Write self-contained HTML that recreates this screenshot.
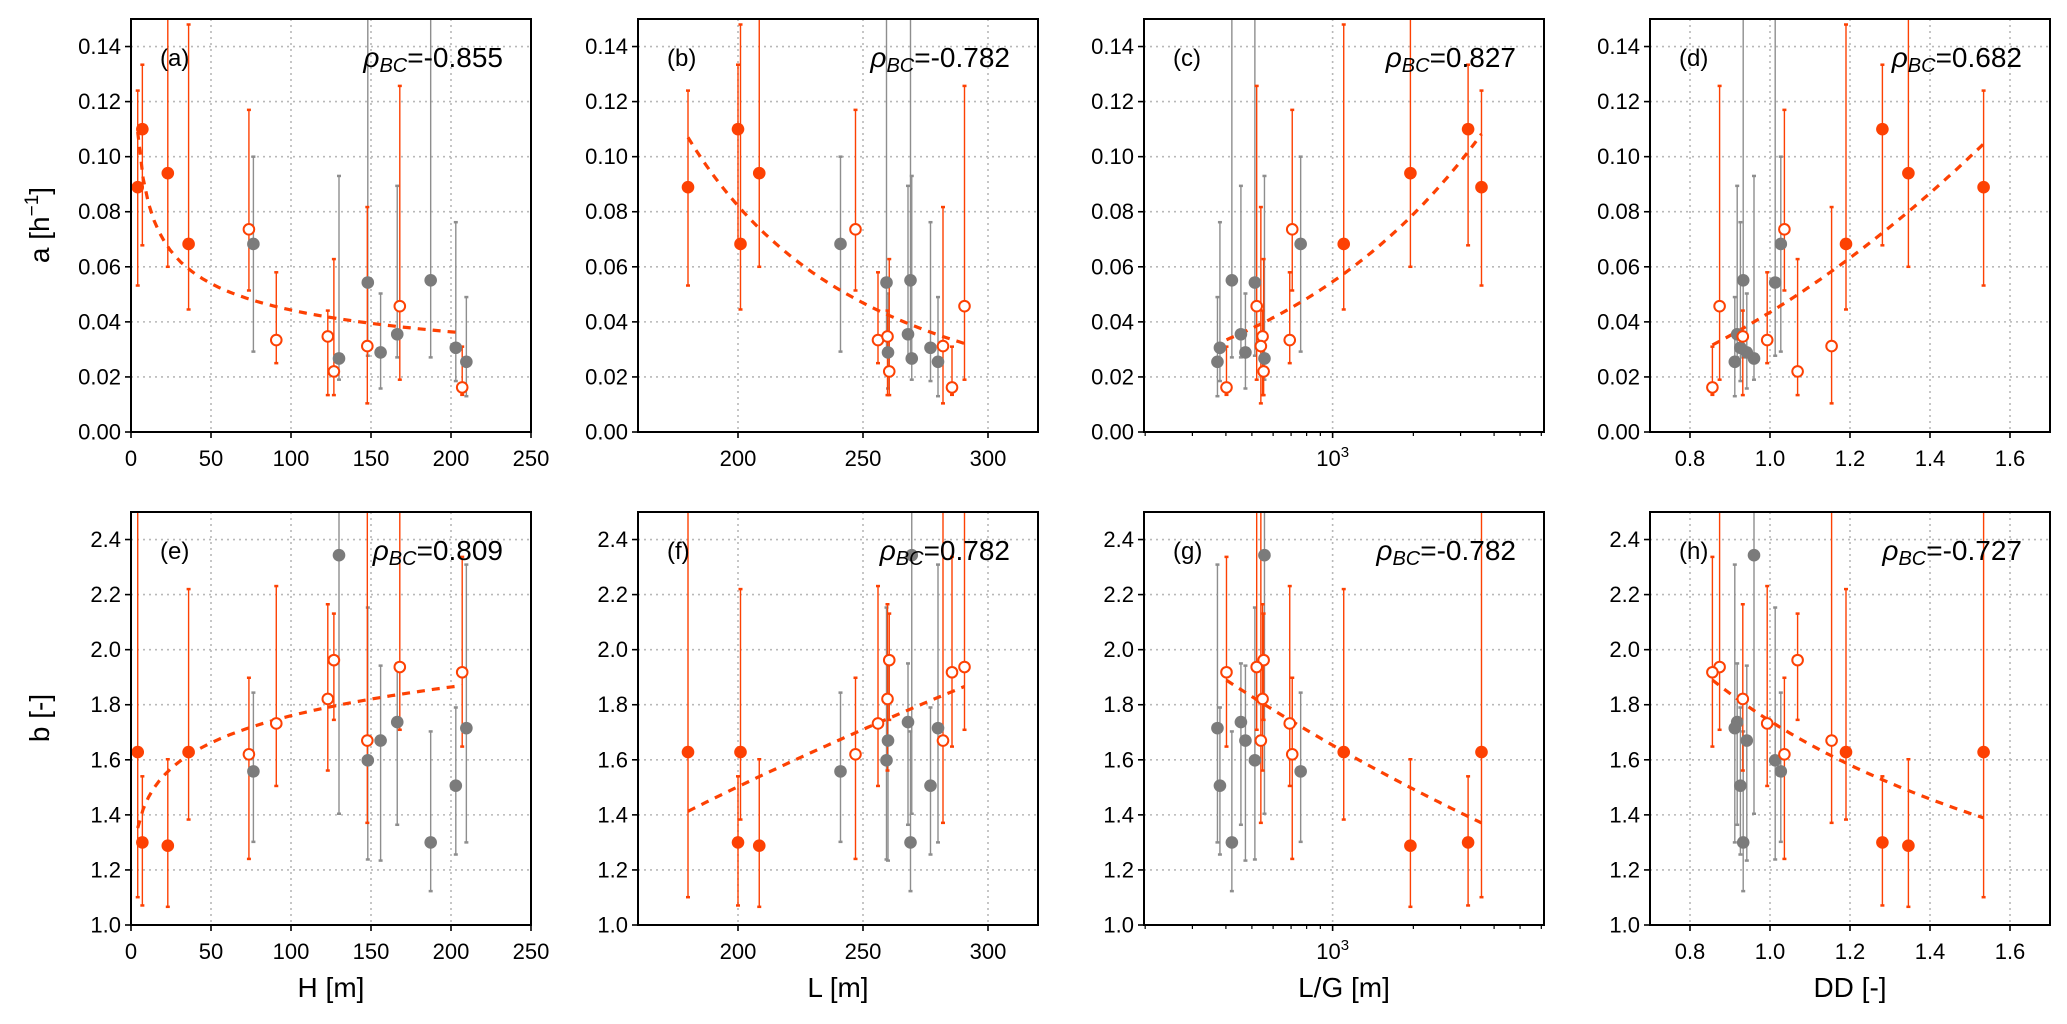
<!DOCTYPE html>
<html><head><meta charset="utf-8"><style>
html,body{margin:0;padding:0;background:#fff;}
svg{display:block;font-family:"Liberation Sans",sans-serif;}
</style></head><body>
<svg id="fig" width="2067" height="1024" viewBox="0 0 2067 1024" xmlns="http://www.w3.org/2000/svg"></svg>
<script>
// ---- data (19 sites) ----
const groups = ['F','F','F','F','O','O','O','O','O','O','O','G','G','G','G','G','G','G','G'];
const H  = [4.2,7.1,23,36,73.7,90.8,123,126.8,147.7,168,207,76.5,130,148,156,166.4,187.3,203,209.6];
const L  = [180,200,208.5,201,247,256,259.8,260.5,282,290.6,285.6,241,269.5,259.4,260,268,269,277,280];
const LG = [3590,3200,1950,1100,707,692,548,553,540,521,402,760,557,513,473,455,421,380,372];
const DD = [1.534,1.281,1.346,1.19,1.036,0.993,0.932,1.069,1.154,0.874,0.856,1.027,0.960,1.013,0.942,0.918,0.933,0.926,0.912];
const aVal = [0.0889,0.110,0.094,0.0683,0.0736,0.0334,0.0347,0.022,0.0312,0.0457,0.0162,0.0683,0.0267,0.0543,0.0289,0.0355,0.0551,0.0306,0.0255];
const aLo  = [0.0532,0.0678,0.060,0.0445,0.0514,0.025,0.0134,0.0134,0.0104,0.019,0.0135,0.0292,0.019,0.0277,0.0158,0.0271,0.0271,0.0185,0.013];
const aHi  = [0.124,0.1334,0.17,0.148,0.117,0.058,0.0441,0.0628,0.0817,0.1257,0.031,0.100,0.093,0.17,0.0503,0.0894,0.17,0.0762,0.049];
const bVal = [1.628,1.300,1.288,1.628,1.620,1.732,1.821,1.962,1.670,1.937,1.918,1.558,2.343,1.598,1.670,1.737,1.300,1.506,1.715];
const bLo  = [1.101,1.071,1.066,1.383,1.240,1.505,1.561,1.745,1.371,1.709,1.648,1.302,1.404,1.238,1.234,1.364,1.123,1.256,1.300];
const bHi  = [2.8,1.540,1.602,2.22,1.898,2.231,2.165,2.131,2.8,2.8,2.337,1.844,2.8,2.153,1.942,1.950,1.703,1.790,2.309];
// fits: [x0, y0, exponent]  y = y0*(x/x0)^k
const fitA = [[4.2,0.109,-0.284],[180,0.107,-2.51],[402,0.0335,0.5356],[0.856,0.0316,2.053]];
const fitB = [[4.2,1.352,0.0832],[180,1.413,0.581],[402,1.889,-0.1464],[0.856,1.89,-0.528]];
const rhoA = ['-0.855','-0.782','0.827','0.682'];
const rhoB = ['0.809','0.782','-0.782','-0.727'];
const panelLetters = [['a','b','c','d'],['e','f','g','h']];
const xTicksH = [0,50,100,150,200,250];
const xTicksL = [200,250,300];
const xTicksDD = [0.8,1.0,1.2,1.4,1.6];
const yTicksA = [0.00,0.02,0.04,0.06,0.08,0.10,0.12,0.14];
const yTicksB = [1.0,1.2,1.4,1.6,1.8,2.0,2.2,2.4];
const xLabels = ['H [m]','L [m]','L/G [m]','DD [-]'];

const NS='http://www.w3.org/2000/svg';
const svg=document.getElementById('fig');
const ORANGE='#fd4103', GRAY='#7b7b7b', GRAYBAR='#8e8e8e';
const colLeft=[131,638,1144,1650], W=400, rowTop=[19,512], HT=413;
function el(tag,attrs,parent){const e=document.createElementNS(NS,tag);for(const k in attrs)e.setAttribute(k,attrs[k]);(parent||svg).appendChild(e);return e;}

const xs=[H,L,LG,DD];
const xlims=[[0,250],[160,320],[198,6140],[0.7,1.7]];
const isLog=[false,false,true,false];

const defs=el('defs',{});
for(let r=0;r<2;r++){for(let c=0;c<4;c++){
  const cp=el('clipPath',{id:'clip'+r+c},defs);
  el('rect',{x:colLeft[c],y:rowTop[r],width:W,height:HT},cp);
}}

for(let r=0;r<2;r++){
  const yv = r===0?aVal:bVal, ylo=r===0?aLo:bLo, yhi=r===0?aHi:bHi;
  const ylim = r===0?[0,0.15]:[1.0,2.5];
  const yTicks = r===0?yTicksA:yTicksB;
  const fits = r===0?fitA:fitB;
  const rhos = r===0?rhoA:rhoB;
  for(let c=0;c<4;c++){
    const x0=colLeft[c], y0=rowTop[r];
    const g=el('g',{});
    
    
    const X=v=>{ if(isLog[c]){const a=Math.log10(xlims[c][0]),b=Math.log10(xlims[c][1]);return x0+(Math.log10(v)-a)/(b-a)*W;} return x0+(v-xlims[c][0])/(xlims[c][1]-xlims[c][0])*W;};
    const Y=v=>y0+HT-(v-ylim[0])/(ylim[1]-ylim[0])*HT;
    // grid
    const grid=el('g',{},g);
    
    
    yTicks.forEach(t=>{el('line',{x1:x0,x2:x0+W,y1:Y(t),y2:Y(t),stroke:'#b8b8b8','stroke-width':1.6,'stroke-dasharray':'2,4'},grid);});
    let xt = c===0?xTicksH:c===1?xTicksL:c===3?xTicksDD:[1000];
    xt.forEach(t=>{el('line',{x1:X(t),x2:X(t),y1:y0,y2:y0+HT,stroke:'#b8b8b8','stroke-width':1.6,'stroke-dasharray':'2,4'},grid);});
    // error bars + markers
    const data=el('g',{'clip-path':'url(#clip'+r+c+')'},g);
    
    
    const order=[];for(let i=0;i<groups.length;i++)if(groups[i]==='G')order.push(i);for(let i=0;i<groups.length;i++)if(groups[i]!=='G')order.push(i);
    order.forEach(i=>{
      const col=groups[i]==='G'?GRAYBAR:ORANGE;
      const px=X(xs[c][i]);
      const eb=el('line',{x1:px,x2:px,y1:Y(ylo[i]),y2:Y(yhi[i]),stroke:col,'stroke-width':1.4},data);
      
      
      el('line',{x1:px-2,x2:px+2,y1:Y(ylo[i]),y2:Y(ylo[i]),stroke:col,'stroke-width':2.5},data);
      el('line',{x1:px-2,x2:px+2,y1:Y(yhi[i]),y2:Y(yhi[i]),stroke:col,'stroke-width':2.5},data);
    });
    // fit line
    const f=fits[c];
    const oxs=xs[c].filter((v,i)=>groups[i]!=='G');
    const xmin=Math.min(...oxs), xmax=Math.max(...oxs);
    let pts=[];
    for(let k=0;k<=60;k++){
      let xv = isLog[c]? Math.exp(Math.log(xmin)+(Math.log(xmax)-Math.log(xmin))*k/60) : xmin+(xmax-xmin)*k/60;
      let yv2=f[1]*Math.pow(xv/f[0],f[2]);
      pts.push(X(xv).toFixed(1)+','+Y(yv2).toFixed(1));
    }
    const fl=el('polyline',{points:pts.join(' '),fill:'none',stroke:ORANGE,'stroke-width':3.2,'stroke-dasharray':'8,7'},data);
    
    
    order.forEach(i=>{
      const px=X(xs[c][i]), py=Y(yv[i]);
      let m;
      if(groups[i]==='G') m=el('circle',{cx:px,cy:py,r:6.3,fill:GRAY},data);
      else if(groups[i]==='F') m=el('circle',{cx:px,cy:py,r:6.3,fill:ORANGE},data);
      else m=el('circle',{cx:px,cy:py,r:5.3,fill:'#fff',stroke:ORANGE,'stroke-width':2},data);
      
      
    });
    // spines
    const sp=el('rect',{x:x0,y:y0,width:W,height:HT,fill:'none',stroke:'#000','stroke-width':2},g);
    
    
    // y ticks
    yTicks.forEach(t=>{
      el('line',{x1:x0-6,x2:x0,y1:Y(t),y2:Y(t),stroke:'#000','stroke-width':1.6},g);
      const tx=el('text',{x:x0-10,y:Y(t)+7.5,'text-anchor':'end','font-size':22,fill:'#000'},g);
      tx.textContent = r===0?t.toFixed(2):t.toFixed(1);
      
      
    });
    // x ticks
    xt.forEach(t=>{
      el('line',{x1:X(t),x2:X(t),y1:y0+HT,y2:y0+HT+6,stroke:'#000','stroke-width':1.6},g);
      const tx=el('text',{x:X(t),y:y0+HT+34,'text-anchor':'middle','font-size':22,fill:'#000'},g);
      
      
      if(isLog[c]){tx.textContent='10';const s=el('tspan',{'font-size':15,dy:-9},tx);s.textContent='3';}
      else tx.textContent = c===3?t.toFixed(1):String(t);
    });
    if(isLog[c]){
      const minors=[200,300,400,500,600,700,800,900,2000,3000,4000,5000,6000];
      minors.forEach(t=>{const px=X(t); if(px>=x0-0.5&&px<=x0+W+0.5) el('line',{x1:px,x2:px,y1:y0+HT,y2:y0+HT+4,stroke:'#000','stroke-width':1.2},g);});
    }
    // panel letter
    const pl=el('text',{x:x0+29,y:y0+47,'font-size':24,fill:'#000'},g);
    pl.textContent='('+panelLetters[r][c]+')';
    
    
    // rho
    const rt=el('text',{x:x0+W-28,y:y0+48,'text-anchor':'end','font-size':28,fill:'#000'},g);
    
    
    const t1=el('tspan',{'font-style':'italic'},rt);t1.textContent='ρ';
    const t2=el('tspan',{'font-style':'italic','font-size':20,dy:5},rt);t2.textContent='BC';
    const t3=el('tspan',{dy:-5},rt);t3.textContent='='+rhos[c];
    if(r===1){
      const xl=el('text',{x:x0+W/2,y:997,'text-anchor':'middle','font-size':28,fill:'#000'},svg);
      xl.textContent=xLabels[c];
      
      
    }
  }
}
const ya=el('text',{x:0,y:0,'text-anchor':'middle','font-size':28,transform:'translate(49,225) rotate(-90)',fill:'#000'});


ya.textContent='a [h';
const sup=el('tspan',{'font-size':19,dy:-11},ya);sup.textContent='−1';
const rb=el('tspan',{dy:11},ya);rb.textContent=']';
const yb=el('text',{x:0,y:0,'text-anchor':'middle','font-size':28,transform:'translate(49,718) rotate(-90)',fill:'#000'});


yb.textContent='b [-]';
</script>
</body></html>
